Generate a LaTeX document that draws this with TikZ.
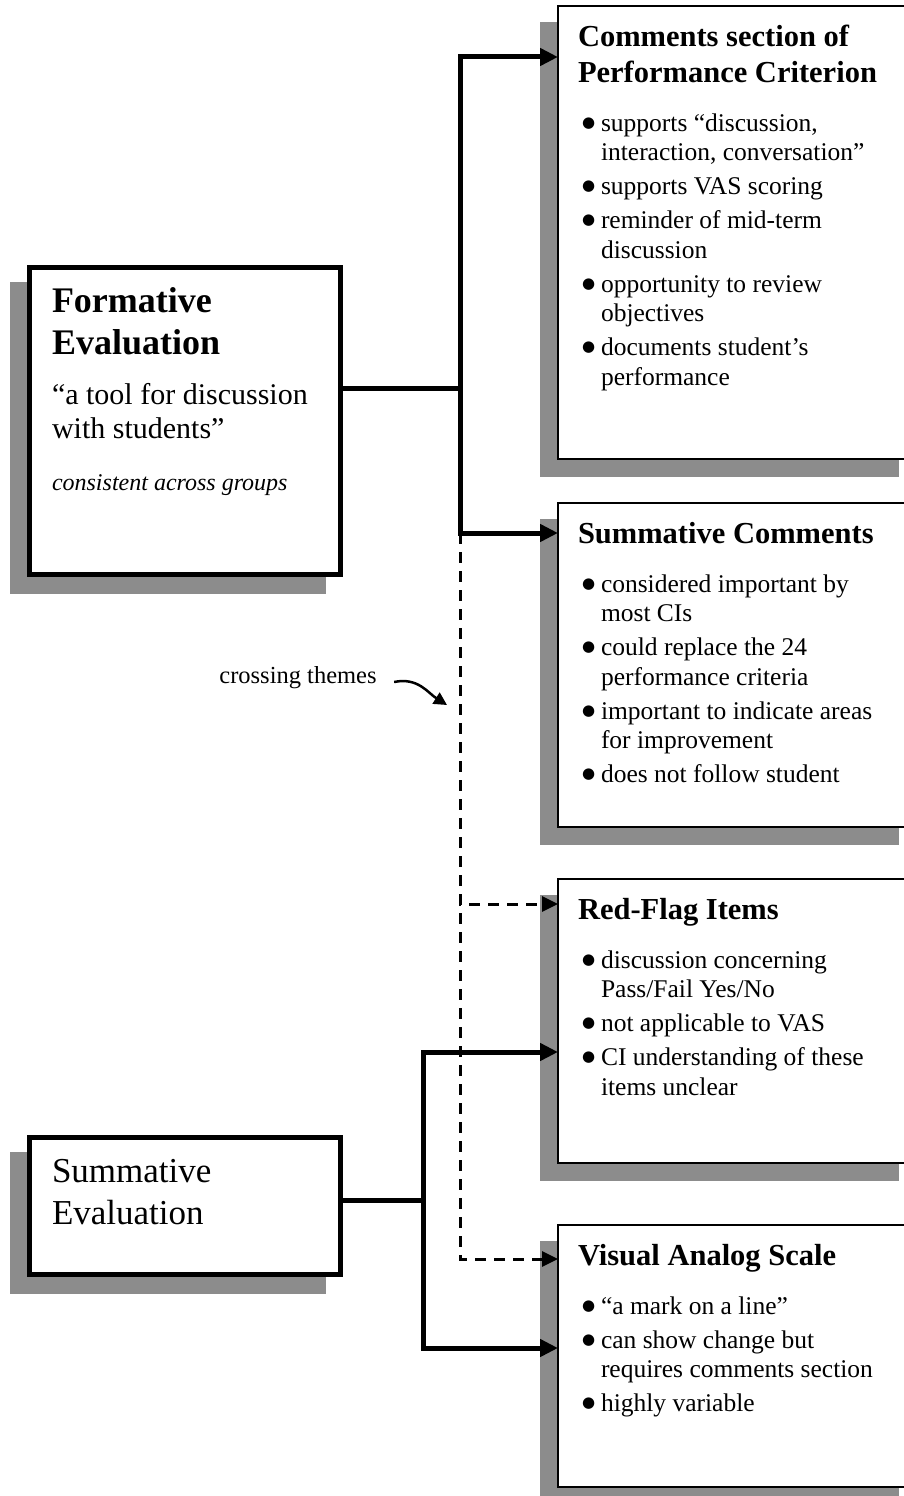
\documentclass[tikz,border=0pt]{standalone}
\usepackage{fontspec}
\setmainfont{Liberation Serif}
\newfontfamily\dotfont{DejaVu Sans}
\usepackage{tikz}
\usetikzlibrary{positioning, arrows.meta, calc, shadows}
\definecolor{shadeGrey}{RGB}{140,140,140}
% natural word spaces inside text-width nodes
\newcommand{\wordspace}{\spaceskip=0pt \xspaceskip=0pt\relax}
% bullet line with hanging indent
\newcommand{\bpoint}[1]{\par\vspace{4.5pt}\hangindent=23pt\hangafter=1\noindent\makebox[23pt][l]{\hspace{4pt}\raisebox{4pt}{\fontsize{15}{15}\dotfont ●}}#1}
\newcommand{\topichead}[1]{\wordspace{\fontsize{30.5}{36}\selectfont\bfseries #1\par}\fontsize{25.5}{29.5}\selectfont\vspace{14.5pt}}

\begin{document}
\begin{tikzpicture}[
    x=1pt, y=-1pt,
    node distance=44pt,
    evalbox/.style={rectangle, draw=black, line width=5pt, fill=white, outer sep=0pt, minimum width=311pt, anchor=north west,
      drop shadow={shadow xshift=-17pt, shadow yshift=-17pt, opacity=1, fill=shadeGrey, draw=shadeGrey, line width=5pt}},
    topicbox/.style={rectangle, draw=black, line width=2pt, fill=white, outer sep=0pt, minimum width=357pt,
      drop shadow={shadow xshift=-17pt, shadow yshift=-17pt, opacity=1, fill=shadeGrey, draw=shadeGrey, line width=2pt}},
    evaltext/.style={anchor=north west, inner xsep=22.5pt, text width=280pt, outer sep=0pt},
    topictext/.style={anchor=north west, inner xsep=20pt, inner ysep=19.5pt, text width=320pt, outer sep=0pt},
    link/.style={line width=5pt, -{Triangle[length=18pt,width=17pt]}},
    plainlink/.style={line width=5pt},
    theme/.style={line width=3pt, dash pattern=on 11pt off 8pt, -{Triangle[length=16pt,width=15pt]}},
    curl/.style={line width=2.5pt, -{Triangle[length=13pt,width=13pt]}}
  ]
  \useasboundingbox (0,0) rectangle (904,1496);

  % --- EVALUATIONS (LEFT) ---
  \node[evalbox, minimum height=307pt] (form_box) at (29.5,267.5) {};
  \node[evaltext, inner ysep=20pt] (form_txt) at (form_box.north west) {\wordspace
    {\fontsize{36}{42}\selectfont\bfseries Formative\newline Evaluation\par}
    \vspace{16pt}
    {\fontsize{30}{34}\selectfont “a tool for discussion\newline with students”\par}
    \vspace{23pt}
    {\fontsize{24}{29}\selectfont\itshape consistent across groups\par}};

  \node[evalbox, minimum height=137pt] (summ_box) at (29.5,1137.5) {};
  \node[evaltext, inner ysep=22pt] (summ_txt) at (summ_box.north west) {\wordspace
    \fontsize{35}{42}\selectfont Summative\newline Evaluation\par};

  % --- TOPICS (RIGHT) ---
  \node[topicbox, minimum height=453pt, anchor=north west] (crit_box) at (558,6) {};
  \node[topicbox, minimum height=324pt, below=44pt of crit_box] (sumc_box) {};
  \node[topicbox, minimum height=284pt, below=52pt of sumc_box] (flag_box) {};
  \node[topicbox, minimum height=262pt, below=62pt of flag_box] (vas_box) {};

  \node[topictext] (crit_txt) at (crit_box.north west) {%
    \topichead{Comments section of\newline Performance Criterion}
    \bpoint{supports “discussion,\newline interaction, conversation”}
    \bpoint{supports VAS scoring}
    \bpoint{reminder of mid-term\newline discussion}
    \bpoint{opportunity to review\newline objectives}
    \bpoint{documents student’s\newline performance}\par};
  \node[topictext] (sumc_txt) at (sumc_box.north west) {%
    \topichead{Summative Comments}
    \bpoint{considered important by\newline most CIs}
    \bpoint{could replace the 24\newline performance criteria}
    \bpoint{important to indicate areas\newline for improvement}
    \bpoint{does not follow student}\par};
  \node[topictext] (flag_txt) at (flag_box.north west) {%
    \topichead{Red-Flag Items}
    \bpoint{discussion concerning\newline Pass/Fail Yes/No}
    \bpoint{not applicable to VAS}
    \bpoint{CI understanding of these\newline items unclear}\par};
  \node[topictext] (vas_txt) at (vas_box.north west) {%
    \topichead{Visual Analog Scale}
    \bpoint{“a mark on a line”}
    \bpoint{can show change but\newline requires comments section}
    \bpoint{highly variable}\par};

  % --- CONNECTORS ---
  \coordinate (form_fork) at (460,388);
  \coordinate (summ_fork) at (423,1200);
  \coordinate (crit_in) at ($(crit_box.north west)+(0,51)$);
  \coordinate (sumc_in) at ($(sumc_box.north west)+(0,30)$);
  \coordinate (flag_in) at ($(flag_box.north west)+(0,25)$);
  \coordinate (flag_low) at ($(flag_box.north west)+(0,173)$);
  \coordinate (vas_in) at ($(vas_box.north west)+(0,34)$);
  \coordinate (vas_low) at ($(vas_box.north west)+(0,123)$);

  \draw[plainlink] (form_box.east |- form_fork) -- (form_fork);
  \draw[link] (form_fork) |- (crit_in);
  \draw[link] (form_fork) |- (sumc_in);
  \draw[theme] (form_fork |- sumc_in) |- (flag_in);
  \draw[theme] (form_fork |- sumc_in) |- (vas_in);
  \draw[plainlink] (summ_box.east |- summ_fork) -- (summ_fork);
  \draw[link] (summ_fork) |- (flag_low);
  \draw[link] (summ_fork) |- (vas_low);

  % crossing themes label
  \node[font=\fontsize{24.5}{29}\selectfont] (themes) at (298,678) {crossing themes};
  \coordinate (themes_tip) at (447,705);
  \draw[curl] ($(themes.east)+(14,4)$) .. controls (418,677) and (428,693) .. (themes_tip);
\end{tikzpicture}
\end{document}
